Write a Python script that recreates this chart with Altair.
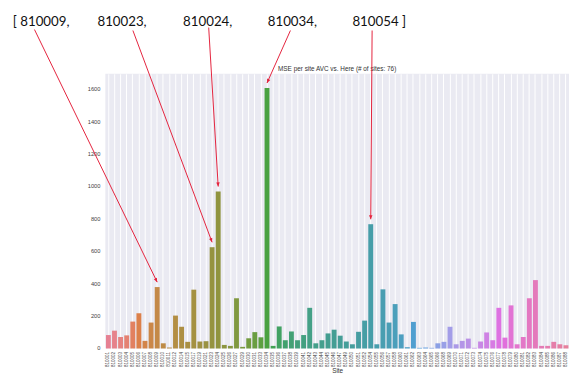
import math
import colorsys

import altair as alt
import pandas as pd

# ---- data -----------------------------------------------------------------
sites = [
    "810001", "810002", "810003", "810004", "810005", "810006", "810007", "810008",
    "810009", "810010", "810011", "810012", "810014", "810015", "810017", "810019",
    "810021", "810023", "810024", "810025", "810026", "810027", "810029", "810030",
    "810031", "810033", "810034", "810035", "810036", "810037", "810038", "810039",
    "810041", "810042", "810043", "810044", "810045", "810046", "810047", "810049",
    "810050", "810051", "810052", "810054", "810055", "810056", "810057", "810058",
    "810060", "810061", "810062", "810063", "810064", "810065", "810066", "810068",
    "810069", "810070", "810071", "810072", "810073", "810074", "810075", "810076",
    "810077", "810078", "810079", "810080", "810081", "810082", "810083", "810084",
    "810085", "810086", "810087", "810088",
]
mse = [
    83, 110, 71, 81, 166, 217, 47, 160,
    379, 32, 6, 203, 134, 41, 363, 43,
    45, 625, 969, 22, 16, 310, 10, 63,
    101, 69, 1608, 16, 136, 51, 105, 51,
    83, 251, 32, 51, 93, 116, 79, 43,
    26, 103, 172, 767, 26, 365, 160, 274,
    87, 8, 164, 4, 6, 4, 32, 41,
    134, 26, 47, 61, 4, 43, 99, 51,
    251, 67, 266, 26, 71, 310, 422, 16,
    16, 41, 26, 20,
]
flagged_sites = ["810009", "810023", "810024", "810034", "810054"]
flagged_labels = ["[ 810009,", "810023,", "810024,", "810034,", "810054 ]"]
y_ticks = [0, 200, 400, 600, 800, 1000, 1200, 1400, 1600]
chart_title = "MSE per site AVC vs. Here (# of sites: 76)"

# ---- layout ---------------------------------------------------------------
PAD_LEFT, PAD_TOP, PAD_BOTTOM = 107, 72, 28
WIDTH, HEIGHT = 471, 279
Y_MAX = 1695
ARROW_GAP = 5
RED = "#e4233d"
BG = "#EAEAF2"
FONT = "Liberation Sans"
AXIS_TEXT = "#444444"

# header label anchors (left edge, baseline) and arrow tails, in page pixels
label_left = [13, 99, 186, 272, 358]
label_base = [23, 23, 23, 23, 23]
tail_x = [35, 135, 212, 295, 378]
tail_y = [27, 28, 25, 28, 28]


# ---- husl palette (as used by seaborn for many categories) ----------------
_M = [[3.2406, -1.5372, -0.4986],
      [-0.9689, 1.8758, 0.0415],
      [0.0557, -0.2040, 1.0570]]
_REF_U, _REF_V = 0.19784, 0.46834
_KAPPA, _EPS = 903.3, 0.008856


def _max_chroma(L, H):
    hrad = math.radians(H)
    sin_h, cos_h = math.sin(hrad), math.cos(hrad)
    sub1 = (L + 16) ** 3 / 1560896.0
    sub2 = sub1 if sub1 > _EPS else L / _KAPPA
    best = float("inf")
    for m1, m2, m3 in _M:
        top = (0.99915 * m1 + 1.05122 * m2 + 1.14460 * m3) * sub2
        rbottom = 0.86330 * m3 - 0.17266 * m2
        lbottom = 0.12949 * m3 - 0.38848 * m1
        bottom = (rbottom * sin_h + lbottom * cos_h) * sub2
        for t in (0.0, 1.0):
            c = L * (top - 1.05122 * t) / (bottom + 0.17266 * sin_h * t)
            if 0.0 < c < best:
                best = c
    return best


def husl_to_rgb(h, s, l):
    c = _max_chroma(l, h) / 100.0 * s
    hrad = math.radians(h)
    u, v = math.cos(hrad) * c, math.sin(hrad) * c
    y = ((l + 16) / 116.0) ** 3 if l > 8 else l / _KAPPA
    var_u = u / (13.0 * l) + _REF_U
    var_v = v / (13.0 * l) + _REF_V
    x = -(9.0 * y * var_u) / ((var_u - 4.0) * var_v - var_u * var_v)
    z = (9.0 * y - 15.0 * var_v * y - var_v * x) / (3.0 * var_v)
    out = []
    for r0, r1, r2 in _M:
        ch = r0 * x + r1 * y + r2 * z
        ch = 12.92 * ch if ch <= 0.0031308 else 1.055 * ch ** (1 / 2.4) - 0.055
        out.append(min(max(ch, 0.0), 1.0))
    return out


def husl_palette(n, h=0.01, s=0.9, l=0.65, desat=0.75):
    colors = []
    for i in range(n):
        hue = ((i / n + h) % 1) * 359
        rgb = husl_to_rgb(hue, s * 99, l * 99)
        hh, ll, ss = colorsys.rgb_to_hls(*rgb)
        rgb = colorsys.hls_to_rgb(hh, ll, ss * desat)
        colors.append("#%02x%02x%02x" % tuple(int(round(c * 255)) for c in rgb))
    return colors


palette = husl_palette(len(sites))

# ---- tables ---------------------------------------------------------------
df = pd.DataFrame({"site": sites, "mse": mse})
ticks_df = pd.DataFrame({"tick": y_ticks, "tick_label": [str(t) for t in y_ticks]})

step = WIDTH / len(sites)


def head_angle(site, tx, ty):
    """Rotation that points the arrowhead from its tail towards the bar top."""
    i = sites.index(site)
    value = mse[i]
    px = PAD_LEFT + (i + 0.5) * step
    py = PAD_TOP + HEIGHT - value / Y_MAX * HEIGHT - ARROW_GAP
    ang = math.degrees(math.atan2(py - ty, px - tx)) - 90
    return ang % 360


arrows = pd.DataFrame({
    "site": flagged_sites,
    "mse": [mse[sites.index(s)] for s in flagged_sites],
    "head_angle": [head_angle(s, tx, ty) for s, tx, ty in zip(flagged_sites, tail_x, tail_y)],
})

# ---- encodings ------------------------------------------------------------
x_enc = alt.X(
    "site:N",
    sort=None,
    scale=alt.Scale(domain=sites, paddingInner=0.2, paddingOuter=0.1),
    axis=alt.Axis(
        title="Site", titleFontSize=6.5, titleFont=FONT, titleFontWeight="normal",
        titleColor="#333333", titlePadding=1,
        labelFontSize=4.6, labelFont=FONT, labelColor=AXIS_TEXT, labelAngle=270,
        labelPadding=3, labelOverlap=False, labelFlush=False,
        ticks=False, domain=False,
        grid=True, gridColor="#ffffff", gridWidth=1, bandPosition=0.5,
    ),
)
y_scale = alt.Scale(domain=[0, Y_MAX], nice=False, zero=True)
y_enc = alt.Y(
    "mse:Q",
    scale=y_scale,
    axis=alt.Axis(
        title="MSE", titleFontSize=6.5, titleFont=FONT, titleFontWeight="normal",
        titleColor="#333333", titlePadding=19,
        labels=False, ticks=False, domain=False, grid=False,
    ),
)

bars = alt.Chart(df).mark_bar().encode(
    x=x_enc,
    y=y_enc,
    color=alt.Color("site:N", sort=None,
                    scale=alt.Scale(domain=sites, range=palette), legend=None),
)

layers = [bars]

# y tick labels, placed through the shared y scale
tick_labels = alt.Chart(ticks_df).mark_text(
    align="right", baseline="middle", font=FONT, fontSize=5.8, color=AXIS_TEXT,
).encode(
    x=alt.value(-5),
    y=alt.Y("tick:Q", scale=y_scale, axis=None),
    text="tick_label:N",
)
layers.append(tick_labels)

# chart title, centred over the plot area
title_mark = alt.Chart(df).transform_filter(alt.datum.site == sites[0]).mark_text(
    align="center", baseline="bottom", font=FONT, fontSize=6.5, color="#333333",
).encode(
    x=alt.value(WIDTH / 2),
    y=alt.value(-2),
    text=alt.value(chart_title),
)
layers.append(title_mark)

# arrow shafts from each header label down to its bar
for site, tx, ty in zip(flagged_sites, tail_x, tail_y):
    shaft = alt.Chart(df).transform_filter(alt.datum.site == site).mark_rule(
        color=RED, strokeWidth=1, yOffset=-ARROW_GAP
    ).encode(
        x=alt.X("site:N", sort=None),
        y=alt.Y("mse:Q"),
        x2=alt.value(tx - PAD_LEFT),
        y2=alt.value(ty - PAD_TOP),
    )
    layers.append(shaft)

# arrowheads, tip at the origin of the symbol path
heads = alt.Chart(arrows).mark_point(
    shape="M0,0L-0.42,-1L0.42,-1Z", filled=True, size=70, color=RED,
    opacity=1, yOffset=-ARROW_GAP,
).encode(
    x=alt.X("site:N", sort=None),
    y=alt.Y("mse:Q"),
    angle=alt.Angle("head_angle:Q", scale=None),
)
layers.append(heads)

# header labels
for site, label, lx, ly in zip(flagged_sites, flagged_labels, label_left, label_base):
    txt = alt.Chart(df).transform_filter(alt.datum.site == site).mark_text(
        align="left", baseline="alphabetic", font="Lato", fontSize=13.5, color="#111111",
    ).encode(
        x=alt.value(lx - PAD_LEFT),
        y=alt.value(ly - PAD_TOP),
        text=alt.value(label),
    )
    layers.append(txt)

chart = alt.layer(*layers).properties(
    width=WIDTH,
    height=HEIGHT,
    background="#ffffff",
    autosize=alt.AutoSizeParams(type="none"),
    padding={"left": PAD_LEFT, "top": PAD_TOP, "right": 0, "bottom": PAD_BOTTOM},
).configure_view(
    fill=BG, stroke=None,
)

chart.save("out.html", embed_options={"renderer": "svg", "actions": False})
